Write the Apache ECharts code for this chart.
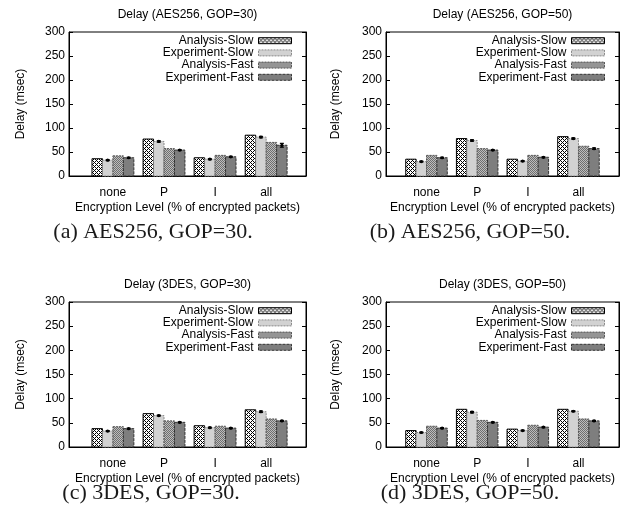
<!DOCTYPE html>
<html><head><meta charset="utf-8">
<script src="https://cdn.jsdelivr.net/npm/echarts@6/dist/echarts.min.js"></script>
<style>html,body{margin:0;padding:0;background:#fff}#c{width:627px;height:519px}</style>
</head><body><div id="c"></div>
<script>
// ---------- data ----------
const categories = ['none', 'P', 'I', 'all'];
const seriesNames = ['Analysis-Slow', 'Experiment-Slow', 'Analysis-Fast', 'Experiment-Fast'];
const panelTitles = ['Delay (AES256, GOP=30)', 'Delay (AES256, GOP=50)', 'Delay (3DES, GOP=30)', 'Delay (3DES, GOP=50)'];
const captions = ['(a) AES256, GOP=30.', '(b) AES256, GOP=50.', '(c) 3DES, GOP=30.', '(d) 3DES, GOP=50.'];
const yAxisName = 'Delay (msec)';
const xAxisName = 'Encryption Level (% of encrypted packets)';

// (a) AES256, GOP=30
const aes30AnalysisSlow = [36, 77, 38, 85];
const aes30ExperimentSlow = [33, 72, 35, 81];
const aes30AnalysisFast = [42, 57, 43, 70];
const aes30ExperimentFast = [38, 54, 40, 64];
const aes30ExperimentSlowErr = [1, 1.5, 1, 1.5];
const aes30ExperimentFastErr = [1, 1, 1, 4];
// (b) AES256, GOP=50
const aes50AnalysisSlow = [35, 78, 35, 82];
const aes50ExperimentSlow = [30, 74, 31, 78];
const aes50AnalysisFast = [43, 57, 43, 62];
const aes50ExperimentFast = [38, 54, 39, 57];
const aes50ExperimentSlowErr = [1, 1.5, 1, 1.5];
const aes50ExperimentFastErr = [1, 1, 1, 1.5];
// (c) 3DES, GOP=30
const des30AnalysisSlow = [38, 69, 44, 77];
const des30ExperimentSlow = [33, 65, 40, 73];
const des30AnalysisFast = [42, 54, 43, 58];
const des30ExperimentFast = [38, 51, 39, 54];
const des30ExperimentSlowErr = [1, 1, 1, 1.5];
const des30ExperimentFastErr = [1, 1, 1, 1];
// (d) 3DES, GOP=50
const des50AnalysisSlow = [34, 78, 37, 78];
const des50ExperimentSlow = [30, 72, 34, 74];
const des50AnalysisFast = [43, 55, 45, 58];
const des50ExperimentFast = [39, 51, 41, 54];
const des50ExperimentSlowErr = [1, 1.5, 1, 1];
const des50ExperimentFastErr = [1, 1, 1, 1];

const panelValues = [
  [aes30AnalysisSlow, aes30ExperimentSlow, aes30AnalysisFast, aes30ExperimentFast],
  [aes50AnalysisSlow, aes50ExperimentSlow, aes50AnalysisFast, aes50ExperimentFast],
  [des30AnalysisSlow, des30ExperimentSlow, des30AnalysisFast, des30ExperimentFast],
  [des50AnalysisSlow, des50ExperimentSlow, des50AnalysisFast, des50ExperimentFast]
];
const panelErrors = [
  [null, aes30ExperimentSlowErr, null, aes30ExperimentFastErr],
  [null, aes50ExperimentSlowErr, null, aes50ExperimentFastErr],
  [null, des30ExperimentSlowErr, null, des30ExperimentFastErr],
  [null, des50ExperimentSlowErr, null, des50ExperimentFastErr]
];

// ---------- styles / layout ----------
function makePattern(w, h, fn) {
  const c = document.createElement('canvas');
  c.width = w; c.height = h;
  const ctx = c.getContext('2d');
  for (let y = 0; y < h; y++) for (let x = 0; x < w; x++) {
    ctx.fillStyle = fn(x, y); ctx.fillRect(x, y, 1, 1);
  }
  return { image: c, repeat: 'repeat' };
}
const crossHatch = makePattern(4, 4, (x, y) => ((x + y) % 4 === 0 || (x - y + 4) % 4 === 0) ? '#000' : '#fff');
const grayHatch = makePattern(2, 2, (x, y) => ((x + y) % 2 === 0) ? '#6e6e6e' : '#bdbdbd');

const barStyles = [
  { fill: crossHatch, stroke: '#000', dash: null },
  { fill: '#d2d2d2', stroke: '#8a8a8a', dash: [2, 1] },
  { fill: grayHatch, stroke: '#555', dash: [2, 1] },
  { fill: '#7e7e7e', stroke: '#333', dash: [3, 1] }
];

const W = 627;
const panels = [
  { l: 69, r: 306, t: 32, b: 176, xmin: -0.86, xmax: 3.78, capX: 153, capY: 221, legRight: 292, yGap: 42 },
  { l: 386, r: 619, t: 32, b: 176, xmin: -0.80, xmax: 3.80, capX: 470, capY: 221, legRight: 605, yGap: 44 },
  { l: 69, r: 306, t: 302, b: 447, xmin: -0.86, xmax: 3.78, capX: 151, capY: 482, legRight: 292, yGap: 42 },
  { l: 386, r: 619, t: 302, b: 447, xmin: -0.80, xmax: 3.80, capX: 470, capY: 482, legRight: 605, yGap: 44 }
];
const barW = 0.205;
const offsets = [-1.5, -0.5, 0.5, 1.5];
const FONT = 'Liberation Sans';

const option = {
  animation: false,
  backgroundColor: '#fff',
  textStyle: { fontFamily: FONT, color: '#000' },
  title: [], grid: [], xAxis: [], yAxis: [], legend: [], series: []
};

panels.forEach((p, k) => {
  option.grid.push({ left: p.l, top: p.t, width: p.r - p.l, height: p.b - p.t, show: true,
    borderColor: '#000', borderWidth: 1, backgroundColor: 'transparent' });
  option.title.push({ text: panelTitles[k], left: (p.l + p.r) / 2, top: p.t - 23, textAlign: 'center', padding: 0,
    textStyle: { fontFamily: FONT, fontSize: 12, fontWeight: 'normal', color: '#000' } });
  option.title.push({ text: captions[k], left: p.capX, top: p.capY, textAlign: 'center', padding: 0,
    textStyle: { fontFamily: 'Liberation Serif', fontSize: 22, fontWeight: 'normal', color: '#1a1a1a' } });
  option.xAxis.push({
    type: 'value', gridIndex: k, min: p.xmin, max: p.xmax,
    name: xAxisName, nameLocation: 'middle', nameGap: 26,
    nameTextStyle: { fontFamily: FONT, fontSize: 12, color: '#000' },
    axisLine: { show: true, onZero: false, lineStyle: { color: '#000', width: 1 } },
    axisTick: { show: false },
    splitLine: { show: false },
    axisLabel: { customValues: [0, 1, 2, 3], margin: 11, fontFamily: FONT, fontSize: 12, color: '#000',
      formatter: v => categories[Math.round(v)] }
  });
  option.yAxis.push({
    type: 'value', gridIndex: k, min: 0, max: 300, interval: 50, position: 'left',
    name: yAxisName, nameLocation: 'middle', nameGap: p.yGap, nameRotate: 90,
    nameTextStyle: { fontFamily: FONT, fontSize: 12, color: '#000' },
    axisLine: { show: true, onZero: false, lineStyle: { color: '#000', width: 1 } },
    axisTick: { show: true, inside: true, length: 4, lineStyle: { color: '#000' } },
    splitLine: { show: false },
    axisLabel: { margin: 4, fontFamily: FONT, fontSize: 12, color: '#000' }
  });
  option.yAxis.push({
    type: 'value', gridIndex: k, min: 0, max: 300, interval: 50, position: 'right',
    axisLine: { show: true, onZero: false, lineStyle: { color: '#000', width: 1 } },
    axisTick: { show: true, inside: true, length: 4, lineStyle: { color: '#000' } },
    splitLine: { show: false }, axisLabel: { show: false }
  });
  option.legend.push({
    orient: 'vertical', align: 'right', right: W - p.legRight, top: p.t + 2.6,
    itemWidth: 33, itemHeight: 6, itemGap: 0, padding: 0, icon: 'rect', selectedMode: false,
    textStyle: { fontFamily: FONT, fontSize: 12, lineHeight: 12.2, color: '#000' },
    data: seriesNames.map((n, s) => ({ name: n, itemStyle: {
      color: barStyles[s].fill, borderColor: barStyles[s].stroke, borderWidth: 1,
      borderType: barStyles[s].dash || 'solid' } }))
  });
  seriesNames.forEach((name, s) => {
    const vals = panelValues[k][s];
    const errs = panelErrors[k][s];
    const st = barStyles[s];
    option.series.push({
      type: 'custom', name: name, xAxisIndex: k, yAxisIndex: 2 * k,
      itemStyle: { color: st.fill, borderColor: st.stroke, borderWidth: 1, borderType: st.dash || 'solid' },
      encode: { x: 0, y: 1 },
      data: categories.map((c, i) => [i, vals[i], errs ? errs[i] : 0]),
      renderItem: (params, api) => {
        const xc = api.value(0) + offsets[s] * barW;
        const v = api.value(1), e = api.value(2);
        const p0 = api.coord([xc - barW / 2, 0]);
        const p1 = api.coord([xc + barW / 2, v]);
        const children = [{
          type: 'rect',
          shape: { x: p0[0], y: p1[1], width: p1[0] - p0[0], height: p0[1] - p1[1] },
          style: { fill: st.fill, stroke: st.stroke, lineWidth: 1, lineDash: st.dash }
        }];
        if (e > 0) {
          const top = api.coord([xc, v + e]), bot = api.coord([xc, v - e]);
          const ls = { stroke: '#000', lineWidth: 1.2 };
          children.push({ type: 'line', shape: { x1: top[0], y1: top[1], x2: bot[0], y2: bot[1] }, style: ls });
          children.push({ type: 'line', shape: { x1: top[0] - 2, y1: top[1], x2: top[0] + 2, y2: top[1] }, style: ls });
          children.push({ type: 'line', shape: { x1: bot[0] - 2, y1: bot[1], x2: bot[0] + 2, y2: bot[1] }, style: ls });
          const mid = api.coord([xc, v]);
          children.push({ type: 'circle', shape: { cx: mid[0], cy: mid[1], r: 1.6 }, style: { fill: '#000' } });
        }
        return { type: 'group', children: children };
      }
    });
  });
});

const chart = echarts.init(document.getElementById('c'), null, { renderer: 'canvas' });
chart.setOption(option);
</script>
</body></html>
